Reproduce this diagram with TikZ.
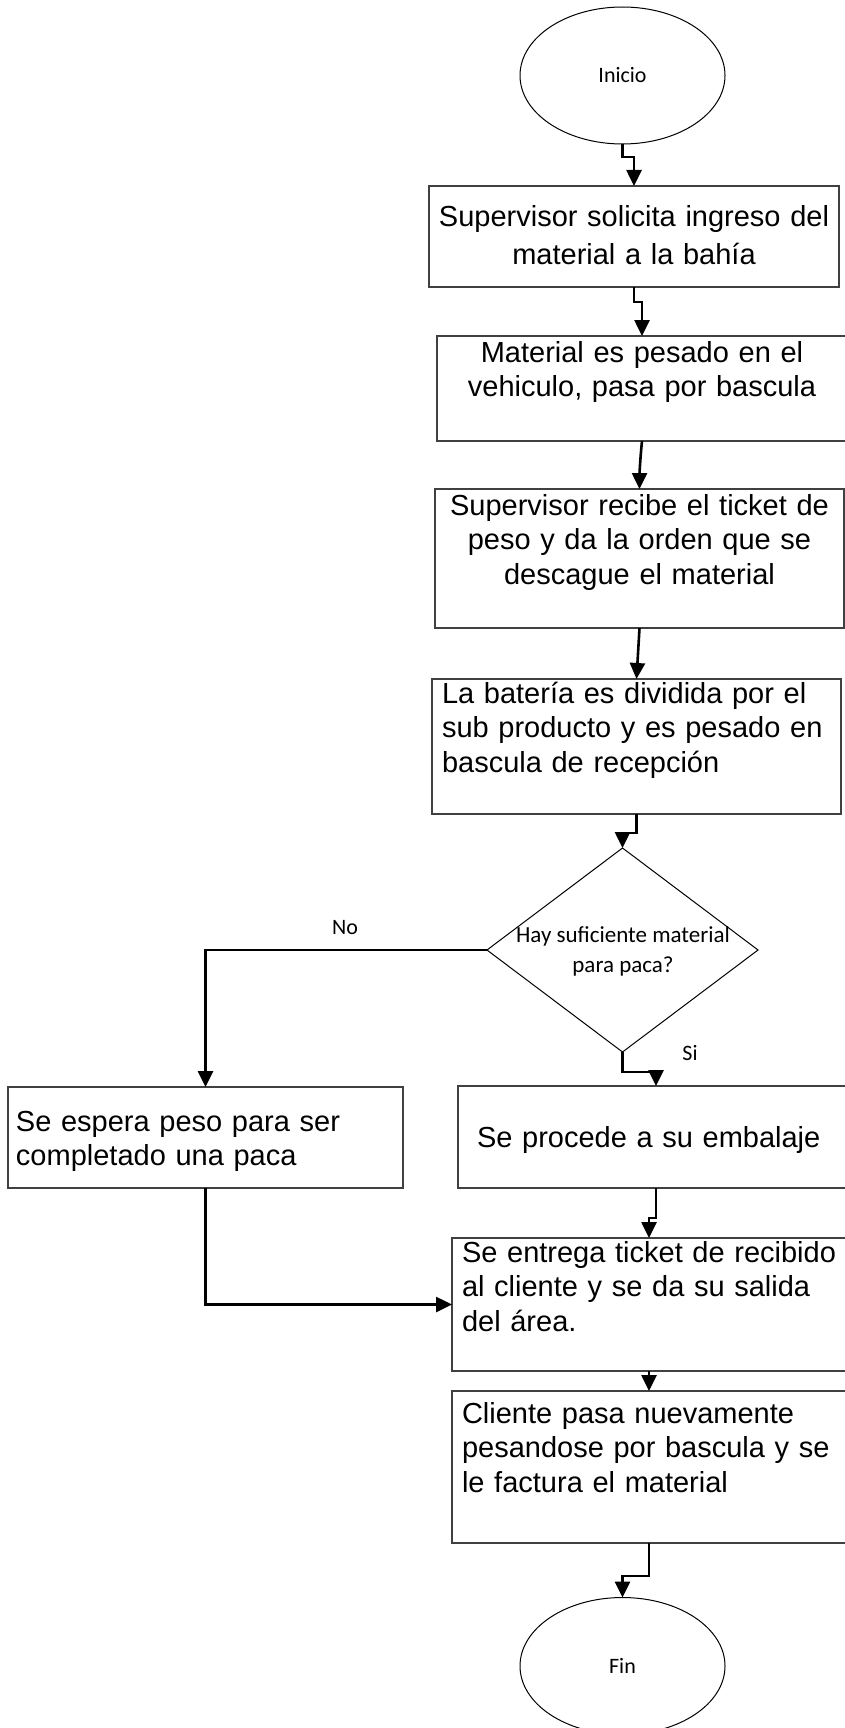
\documentclass[tikz,border=0pt]{standalone}
\usepackage{fontspec}
\setmainfont{Liberation Sans}
\newfontfamily\calibri{Carlito}
\usetikzlibrary{shapes.geometric,arrows.meta}

\begin{document}
\begin{tikzpicture}[x=1pt, y=-1pt, >={Triangle[length=16pt,width=15pt]},
        caja/.style={draw=black!75, line width=1.3pt, rectangle, anchor=north west,
            inner xsep=10pt, inner ysep=0pt, outer sep=0pt,
            font=\fontsize{29}{34.5}\selectfont},
        terminal/.style={draw, ellipse, line width=1pt, minimum width=205pt,
            minimum height=137pt, inner sep=0pt, outer sep=0pt,
            font=\calibri\fontsize{22}{26}\selectfont},
        decision/.style={draw, diamond, line width=1pt, minimum width=271pt,
            minimum height=204pt, inner sep=0pt, outer sep=0pt},
        etiqueta/.style={font=\calibri\fontsize{22}{26}\selectfont},
        flecha/.style={->, line width=2.6pt}]

    \useasboundingbox (0,0) rectangle (845,1728);

    % inicio y pasos
    \node[terminal] (ini) at (622.5,75.5) {Inicio};
    \node[caja, inner xsep=3pt, text width=404pt, align=center, text height=41pt, text depth=60pt,
        font=\fontsize{29}{38}\selectfont] (b1) at (429,186)
        {Supervisor solicita ingreso del\\material a la bahía};
    \node[caja, text width=390pt, align=center, text height=26pt, text depth=79pt] (b2) at (437,336)
        {Material es pesado en el\\vehiculo, pasa por bascula};
    \node[caja, text width=389pt, align=center, text height=26pt, text depth=113pt] (b3) at (435,489)
        {Supervisor recibe el ticket de\\peso y da la orden que se\\descague el material};
    \node[caja, text width=389pt, align=left, text height=24pt, text depth=111pt] (b4) at (432,679)
        {La batería es dividida por el\\sub producto y es pesado en\\bascula de recepción};

    % decision
    \node[decision] (dec) at (622.5,950) {};
    \node[font=\calibri\fontsize{23}{30}\selectfont, align=center, inner sep=0pt] (pregunta) at (623,951)
        {Hay suficiente material\\para paca?};
    \node[etiqueta] (no) at (345,928) {No};
    \node[etiqueta] (si) at (690,1053) {Si};

    % ramas
    \node[caja, inner xsep=8pt, text width=379pt, align=left, text height=44pt, text depth=57pt] (espera) at (8,1087)
        {Se espera peso para ser\\completado una paca};
    \node[caja, inner xsep=19pt, text width=358pt, align=left, text height=61pt, text depth=41pt] (emb) at (458,1086)
        {Se procede a su embalaje};
    \node[caja, text width=374pt, align=left, text height=24pt, text depth=109pt] (ent) at (452,1238)
        {Se entrega ticket de recibido\\al cliente y se da su salida\\del área.};
    \node[caja, text width=374pt, align=left, text height=32pt, text depth=120pt] (cli) at (452,1391)
        {Cliente pasa nuevamente\\pesandose por bascula y se\\le factura el material};
    \node[terminal] (fin) at (622.5,1666) {Fin};

    % conectores
    \draw[flecha] (ini.south) -- ++(0,13) -| (b1.north);
    \draw[flecha] (b1.south) -- ++(0,15) -| (b2.north);
    \draw[flecha] (b2.south) .. controls +(-2,20) and +(0,-15) .. (b3.north);
    \draw[flecha] (b3.south) -- (b4.north);
    \draw[flecha] (b4.south) -- ++(0,19) -| (dec.north);
    \draw[flecha] (dec.west) -| (espera.north);
    \draw[flecha] (dec.south) -- ++(0,20) -| (emb.north);
    \draw[flecha] (emb.south) -- ++(0,30) -| (ent.north);
    \draw[flecha] (espera.south) |- (ent.west);
    \draw[flecha] (ent.south) -- (cli.north);
    \draw[flecha] (cli.south) -- ++(0,33) -| (fin.north);
\end{tikzpicture}
\end{document}
